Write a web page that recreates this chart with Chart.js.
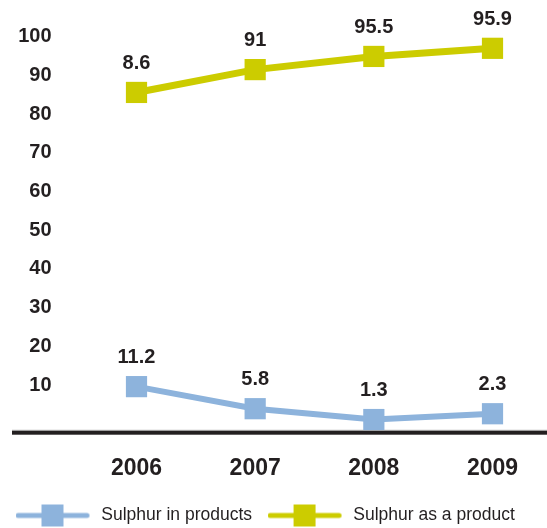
<!DOCTYPE html>
<html>
<head>
<meta charset="utf-8">
<script src="https://cdn.jsdelivr.net/npm/chart.js@4.4.1/dist/chart.umd.min.js"></script>
<style>
  html, body { margin: 0; padding: 0; background: #fff; }
</style>
</head>
<body>
<canvas id="sulphurChart" width="547" height="528"></canvas>
<script>
// data
const years = ["2006", "2007", "2008", "2009"];
const seriesNames = ["Sulphur in products", "Sulphur as a product"];
const inProducts = [9.6, 3.9, 1.1, 2.6];
const asProduct = [85.6, 91.5, 94.9, 97.0];
// printed labels (as shown in the original, typo included)
const inProductsLabels = ["11.2", "5.8", "1.3", "2.3"];
const asProductLabels = ["8.6", "91", "95.5", "95.9"];
const yTicks = [10, 20, 30, 40, 50, 60, 70, 80, 90, 100];

const BLUE = "#8db3dc";
const YELLOW = "#cccc00";
const INK = "#231f20";

function legendIcon(color) {
  const c = document.createElement("canvas");
  c.width = 77;
  c.height = 24;
  const g = c.getContext("2d");
  g.strokeStyle = color;
  g.lineWidth = 5;
  g.lineCap = "round";
  g.beginPath();
  g.moveTo(2.5, 12);
  g.lineTo(71.5, 12);
  g.stroke();
  g.fillStyle = color;
  g.fillRect(26, 1, 22, 22);
  return c;
}

const valueLabels = {
  id: "valueLabels",
  afterDatasetsDraw(chart) {
    const ctx = chart.ctx;
    const texts = [inProductsLabels, asProductLabels];
    ctx.save();
    ctx.font = "bold 20px 'Liberation Sans', Arial, sans-serif";
    ctx.fillStyle = INK;
    ctx.textAlign = "center";
    ctx.textBaseline = "middle";
    chart.data.datasets.forEach((ds, i) => {
      chart.getDatasetMeta(i).data.forEach((pt, j) => {
        ctx.fillText(texts[i][j], pt.x, pt.y - 29);
      });
    });
    ctx.restore();
  }
};

const baseLine = {
  id: "baseLine",
  beforeDatasetsDraw(chart) {
    const ctx = chart.ctx;
    const y = chart.chartArea.bottom;
    ctx.save();
    ctx.fillStyle = "#c8c8c8";
    ctx.fillRect(12, y - 3, 535, 1);
    ctx.fillStyle = INK;
    ctx.fillRect(12, y - 2, 535, 4);
    ctx.restore();
  }
};

const ctx = document.getElementById("sulphurChart").getContext("2d");
new Chart(ctx, {
  type: "line",
  data: {
    labels: years,
    datasets: [
      {
        label: seriesNames[0],
        data: inProducts,
        borderColor: BLUE,
        backgroundColor: BLUE,
        borderWidth: 6,
        pointStyle: "rect",
        pointRadius: 15,
        pointHoverRadius: 15,
        pointBorderWidth: 0,
        tension: 0,
        clip: false
      },
      {
        label: seriesNames[1],
        data: asProduct,
        borderColor: YELLOW,
        backgroundColor: YELLOW,
        borderWidth: 7,
        pointStyle: "rect",
        pointRadius: 15,
        pointHoverRadius: 15,
        pointBorderWidth: 0,
        tension: 0,
        clip: false
      }
    ]
  },
  options: {
    responsive: false,
    animation: false,
    devicePixelRatio: 1,
    layout: { padding: { top: 36.7, right: 0, bottom: 0, left: 0 } },
    plugins: {
      tooltip: { enabled: false },
      legend: {
        position: "bottom",
        align: "start",
        maxHeight: 36.75,
        labels: {
          usePointStyle: true,
          pointStyleWidth: 77,
          padding: 15.5,
          color: INK,
          font: { family: "'Liberation Sans', Arial, sans-serif", size: 17.5 },
          generateLabels(chart) {
            return chart.data.datasets.map((ds, i) => ({
              text: ds.label,
              fillStyle: ds.borderColor,
              strokeStyle: ds.borderColor,
              lineWidth: 0,
              fontColor: INK,
              pointStyle: legendIcon(ds.borderColor),
              hidden: false,
              datasetIndex: i
            }));
          }
        }
      }
    },
    scales: {
      x: {
        grid: { display: false },
        border: { display: false },
        ticks: {
          color: INK,
          padding: 14,
          font: { family: "'Liberation Sans', Arial, sans-serif", size: 23, weight: "bold" }
        },
        afterFit(scale) { scale.height = 58.55; }
      },
      y: {
        min: -2.3,
        max: 100,
        grid: { display: false, drawTicks: false },
        border: { display: false },
        ticks: {
          color: INK,
          padding: 85,
          font: { family: "'Liberation Sans', Arial, sans-serif", size: 20, weight: "bold" }
        },
        afterBuildTicks(scale) { scale.ticks = yTicks.map(v => ({ value: v })); },
        afterFit(scale) {
          scale.width = 136.5;
          scale.paddingTop = 0;
          scale.paddingBottom = 0;
        }
      },
      yRight: {
        position: "right",
        min: 0,
        max: 1,
        grid: { display: false, drawTicks: false },
        border: { display: false },
        ticks: { display: false },
        afterFit(scale) { scale.width = 54.5; }
      }
    }
  },
  plugins: [baseLine, valueLabels]
});
</script>
</body>
</html>
